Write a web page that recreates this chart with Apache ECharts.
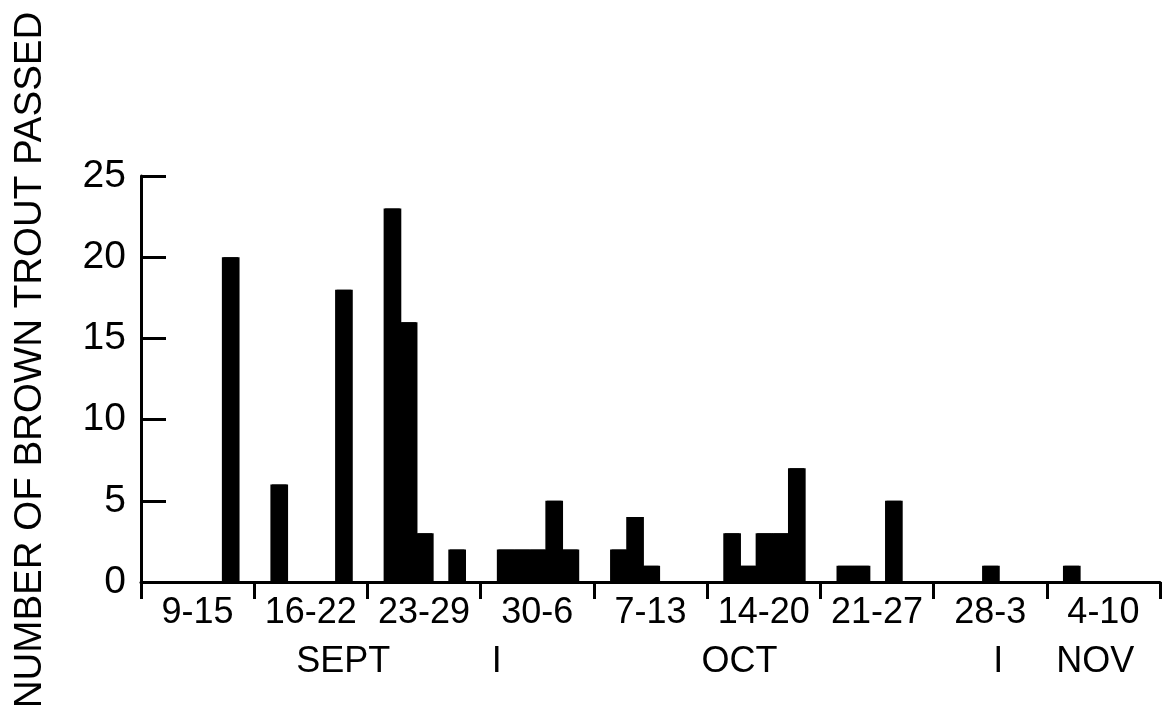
<!DOCTYPE html>
<html>
<head>
<meta charset="utf-8">
<script src="https://cdn.jsdelivr.net/npm/echarts@6/dist/echarts.min.js"></script>
<style>
html,body{margin:0;padding:0;background:#fff;}
#chart{width:1162px;height:717px;}
</style>
</head>
<body>
<div id="chart"></div>
<script>
// Daily categories: Sept 9 – Nov 10
const dayLabels = [
 'Sep 9','Sep 10','Sep 11','Sep 12','Sep 13','Sep 14','Sep 15','Sep 16','Sep 17','Sep 18','Sep 19',
 'Sep 20','Sep 21','Sep 22','Sep 23','Sep 24','Sep 25','Sep 26','Sep 27','Sep 28','Sep 29','Sep 30',
 'Oct 1','Oct 2','Oct 3','Oct 4','Oct 5','Oct 6','Oct 7','Oct 8','Oct 9','Oct 10','Oct 11','Oct 12',
 'Oct 13','Oct 14','Oct 15','Oct 16','Oct 17','Oct 18','Oct 19','Oct 20','Oct 21','Oct 22','Oct 23',
 'Oct 24','Oct 25','Oct 26','Oct 27','Oct 28','Oct 29','Oct 30','Oct 31',
 'Nov 1','Nov 2','Nov 3','Nov 4','Nov 5','Nov 6','Nov 7','Nov 8','Nov 9','Nov 10'
];
// Number of brown trout passed per day
const troutCounts = [
 0,0,0,0,0,20,0,
 0,6,0,0,0,18,0,
 0,23,16,3,0,2,0,
 0,2,2,2,5,2,0,
 0,2,4,1,0,0,0,
 0,3,1,3,3,7,0,
 0,1,1,0,5,0,0,
 0,0,0,1,0,0,0,
 0,1,0,0,0,0,0
];
const weekLabels = ['9-15','16-22','23-29','30-6','7-13','14-20','21-27','28-3','4-10'];
const monthMarkDays = [12.5, 22, 37, 53, 59];
const monthMarkTexts = ['SEPT', 'I', 'OCT', 'I', 'NOV'];
const yTicks = [0, 5, 10, 15, 20, 25];
const yAxisTitle = 'NUMBER OF BROWN TROUT PASSED';

const FONT = 'Liberation Sans';
const chart = echarts.init(document.getElementById('chart'), null, {renderer: 'canvas'});
chart.setOption({
  backgroundColor: '#fff',
  animation: false,
  grid: {left: 141, right: 2, top: 176, bottom: 135, containLabel: false, outerBoundsMode: 'none'},
  graphic: [{
    type: 'text', x: 30, y: 360, rotation: Math.PI / 2,
    style: {
      text: yAxisTitle, fill: '#000', font: '38.5px "Liberation Sans"',
      align: 'center', verticalAlign: 'middle'
    }
  }],
  xAxis: [
    {
      type: 'category', data: dayLabels, position: 'bottom', boundaryGap: true,
      axisLine: {show: false}, axisTick: {show: false}, axisLabel: {show: false}, splitLine: {show: false}
    },
    {
      type: 'category', data: weekLabels, position: 'bottom', boundaryGap: true,
      axisLine: {show: true, lineStyle: {color: '#000', width: 3}},
      axisTick: {show: true, length: 17, lineStyle: {color: '#000', width: 3}},
      axisLabel: {interval: 0, margin: 13, color: '#000', fontFamily: FONT, fontSize: 36},
      splitLine: {show: false}
    },
    {
      type: 'value', min: 0, max: 63, interval: 0.5, position: 'bottom',
      axisLine: {show: false}, axisTick: {show: false}, splitLine: {show: false},
      axisLabel: {
        margin: 62, color: '#000', fontFamily: FONT, fontSize: 36,
        formatter: function (v) {
          for (let i = 0; i < monthMarkDays.length; i++) {
            if (Math.abs(v - monthMarkDays[i]) < 1e-6) return monthMarkTexts[i];
          }
          return '';
        }
      }
    }
  ],
  yAxis: {
    type: 'value', min: yTicks[0], max: yTicks[yTicks.length - 1], interval: 5,
    axisLine: {show: true, lineStyle: {color: '#000', width: 3}},
    axisTick: {show: true, inside: true, length: 25, lineStyle: {color: '#000', width: 3}},
    axisLabel: {margin: 15, color: '#000', fontFamily: FONT, fontSize: 39},
    splitLine: {show: false}
  },
  series: [{
    type: 'bar', xAxisIndex: 0, data: troutCounts,
    barWidth: '100%',
    itemStyle: {color: '#000', shadowColor: '#000', shadowBlur: 0, shadowOffsetX: 1.5}
  }]
});
</script>
</body>
</html>
